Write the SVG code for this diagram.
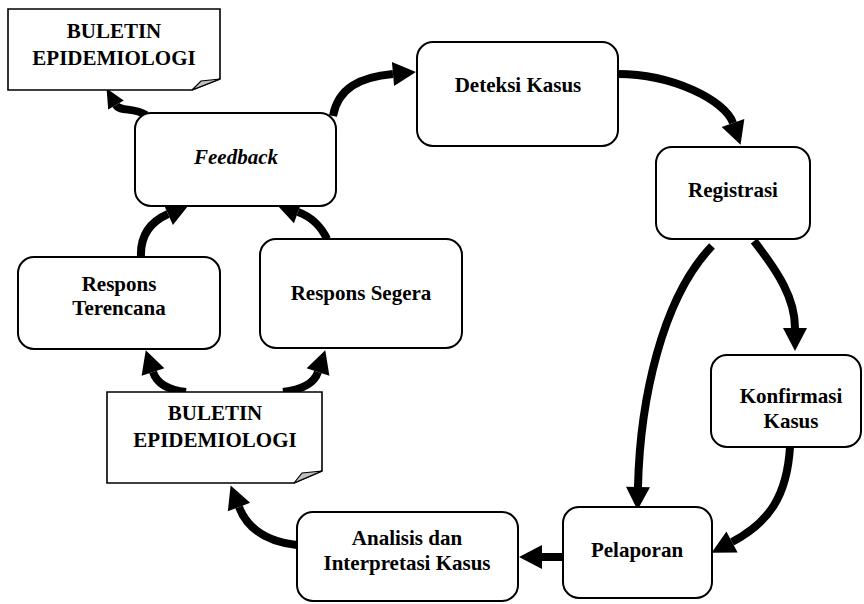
<svg xmlns="http://www.w3.org/2000/svg" width="864" height="604" viewBox="0 0 864 604">
<style>
.box{fill:#fff;stroke:#000;stroke-width:2}
.doc{fill:#fff;stroke:#000;stroke-width:1.6;stroke-linejoin:miter}
.fold{fill:#bfbfbf;stroke:#000;stroke-width:1.2}
.t{font-family:"Liberation Serif","Times New Roman","DejaVu Serif",serif;font-weight:bold;font-size:21px;text-anchor:middle;fill:#000}
.it{font-style:italic}
.c{fill:none;stroke:#000;stroke-width:8}
.ca{marker-end:url(#ah)}
.cs{marker-end:url(#ahs)}
</style>
<defs>
<marker id="ah" markerUnits="userSpaceOnUse" markerWidth="30" markerHeight="30" refX="0" refY="12" orient="auto" overflow="visible">
<path d="M0,0 L23,12 L0,24 z" fill="#000"/>
</marker>
<marker id="ahs" markerUnits="userSpaceOnUse" markerWidth="24" markerHeight="24" refX="0" refY="9" orient="auto" overflow="visible">
<path d="M0,0 L19,9 L0,18 z" fill="#000"/>
</marker>
</defs>
<g id="connectors">
<path class="c ca" d="M333 116 C338 88 360 77 393 74"/>
<path class="c ca" d="M618 74 C672 74 725 100 733 123"/>
<path class="c ca" d="M754 241 C778 272 795 298 795 328"/>
<path class="c ca" d="M712 246 C662 298 640 400 638 487"/>
<path class="c ca" d="M790 447 C787 495 770 522 732 542"/>
<path class="c ca" d="M564 557 L542 557"/>
<path class="c ca" d="M297 545 C268 542 248 530 239 507"/>
<path class="c ca" d="M186 392 C168 390 157 384 153 372"/>
<path class="c ca" d="M283 392 C300 390 314 384 318 372"/>
<path class="c ca" d="M141 257 C140 236 150 222 168 214"/>
<path class="c ca" d="M327 239 C322 228 312 217 298 212"/>
<path class="c cs" d="M146 115 C134 107 120 112 116 105"/>
</g>
<g id="buletin-top">
<path class="doc" d="M8 9 L220 9 L220 79 L192 90 L8 90 Z"/>
<path class="fold" d="M192 90 L201 81 L220 79 Z"/>
<text class="t" x="114" y="38">BULETIN</text>
<text class="t" x="114" y="65">EPIDEMIOLOGI</text>
</g>
<g id="deteksi">
<rect class="box" x="417" y="42" width="201" height="104" rx="16"/>
<text class="t" x="518" y="92">Deteksi Kasus</text>
</g>
<g id="registrasi">
<rect class="box" x="656" y="147" width="154" height="92" rx="16"/>
<text class="t" x="733" y="197">Registrasi</text>
</g>
<g id="konfirmasi">
<rect class="box" x="711" y="355" width="150" height="92" rx="16"/>
<text class="t" x="791" y="403">Konfirmasi</text>
<text class="t" x="791" y="428">Kasus</text>
</g>
<g id="pelaporan">
<rect class="box" x="563" y="507" width="149" height="91" rx="16"/>
<text class="t" x="637" y="557">Pelaporan</text>
</g>
<g id="analisis">
<rect class="box" x="297" y="512" width="221" height="89" rx="16"/>
<text class="t" x="407" y="545">Analisis dan</text>
<text class="t" x="407" y="570">Interpretasi Kasus</text>
</g>
<g id="buletin-bottom">
<path class="doc" d="M107 392 L322 392 L322 471 L294 483 L107 483 Z"/>
<path class="fold" d="M294 483 L302 473 L322 471 Z"/>
<text class="t" x="215" y="420">BULETIN</text>
<text class="t" x="215" y="447">EPIDEMIOLOGI</text>
</g>
<g id="respons-terencana">
<rect class="box" x="18" y="257" width="202" height="92" rx="16"/>
<text class="t" x="119" y="291">Respons</text>
<text class="t" x="119" y="315">Terencana</text>
</g>
<g id="respons-segera">
<rect class="box" x="260" y="239" width="202" height="109" rx="16"/>
<text class="t" x="361" y="300">Respons Segera</text>
</g>
<g id="feedback">
<rect class="box" x="135" y="113" width="201" height="93" rx="16"/>
<text class="t it" x="236" y="164">Feedback</text>
</g>
</svg>
